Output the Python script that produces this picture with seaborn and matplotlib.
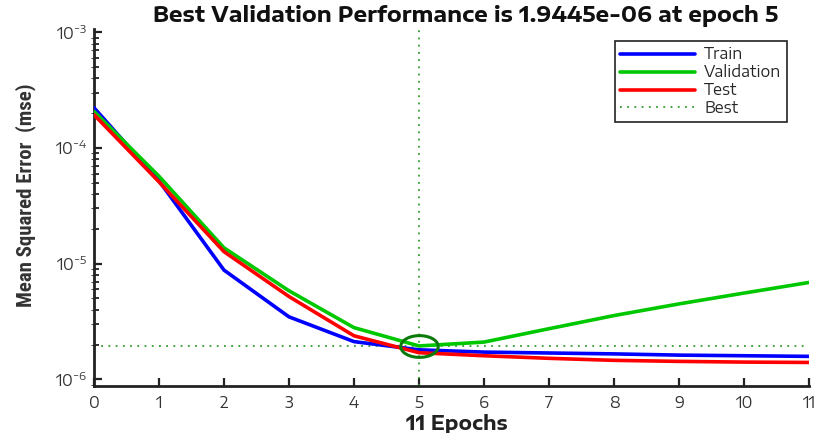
import numpy as np
import pandas as pd
import matplotlib
matplotlib.use('Agg')
import matplotlib.pyplot as plt
from matplotlib.path import Path
from matplotlib.lines import Line2D
import seaborn as sns

# ---- data ----
epochs = list(range(12))
train_mse = [2.23e-4, 5.2e-5, 8.8e-6, 3.47e-6, 2.12e-6, 1.80e-6,
             1.72e-6, 1.69e-6, 1.66e-6, 1.62e-6, 1.60e-6, 1.58e-6]
val_mse = [2.07e-4, 5.7e-5, 1.37e-5, 5.83e-6, 2.80e-6, 1.9445e-6,
           2.10e-6, 2.74e-6, 3.56e-6, 4.49e-6, 5.57e-6, 6.88e-6]
test_mse = [1.94e-4, 5.1e-5, 1.27e-5, 5.2e-6, 2.38e-6, 1.70e-6,
            1.60e-6, 1.52e-6, 1.46e-6, 1.43e-6, 1.41e-6, 1.40e-6]
best_epoch = 5
best_perf = 1.9445e-06
y_decades = [-6, -5, -4, -3]

df = pd.DataFrame({
    "epoch": epochs * 3,
    "mse": train_mse + val_mse + test_mse,
    "set": ["Train"] * 12 + ["Validation"] * 12 + ["Test"] * 12,
})

# the reference is a stretched MATLAB figure -> wide fonts for horizontal text,
# condensed font for the rotated y label
wide = ['Encode Sans Expanded', 'DejaVu Sans']
narrow = ['Roboto Condensed', 'Archivo Narrow', 'DejaVu Sans']

sns.set_style("ticks")
plt.rcParams['font.family'] = wide
plt.rcParams['mathtext.fontset'] = 'custom'
plt.rcParams['mathtext.rm'] = wide[0]
plt.rcParams['mathtext.it'] = wide[0]

colors = {"Train": "#0000ff", "Validation": "#00c800", "Test": "#ff0000"}
best_col = "#2e9e2e"

fig = plt.figure(figsize=(8.2, 4.33), dpi=100)
ax = fig.add_axes([0.1146, 0.1092, 0.872, 0.8231])

ax.axvline(best_epoch, color=best_col, linestyle=(0, (1, 3)), linewidth=1.3, zorder=1)
ax.axhline(best_perf, color=best_col, linestyle=(0, (1, 3)), linewidth=1.3, zorder=1)

sns.lineplot(data=df, x="epoch", y="mse", hue="set", palette=colors,
             hue_order=["Train", "Validation", "Test"], linewidth=2.6,
             legend=False, ax=ax, zorder=3)

# ellipse around the best validation point
t = np.linspace(0, 2 * np.pi, 60)
ell = Path(np.column_stack([np.cos(t), 0.58 * np.sin(t)]))
ax.plot([best_epoch], [best_perf], marker=ell, markersize=27, markerfacecolor='none',
        markeredgecolor="#0a7a0a", markeredgewidth=2.2, linestyle='none', zorder=4)

ax.set_yscale('log')
ax.set_xlim(0, 11)
ax.set_ylim(10 ** -6.055, 10 ** -2.974)
ax.set_xticks(range(12))
ax.set_yticks([10.0 ** d for d in y_decades],
              labels=[r'$10^{%d}$' % d for d in y_decades])

# short inward 2..9 ticks on the log axis
minor_vals = [m * 10.0 ** d for d in y_decades[:-1] for m in range(2, 10)]
ax.hlines(minor_vals, 0, 0.085, colors='#222222', linewidth=1.3, zorder=2.6)

ax.tick_params(axis='both', which='major', direction='in', length=6, width=1.6,
               labelsize=11, colors='#222222', labelcolor='#333333')
ax.tick_params(axis='x', pad=7)
ax.tick_params(axis='y', pad=5)

for s in ['left', 'bottom']:
    ax.spines[s].set_linewidth(2)
    ax.spines[s].set_color('#222222')
ax.spines['top'].set_visible(False)
ax.spines['right'].set_visible(False)

ax.set_xlabel("11 Epochs", fontsize=14, fontweight='bold', color='#222222')
ax.xaxis.set_label_coords(0.508, -0.078)
ax.set_ylabel("Mean Squared Error  (mse)", fontsize=15, fontweight='bold',
              color='#333333', family=narrow)
ax.yaxis.set_label_coords(-0.081, 0.535)
ax.set_title("Best Validation Performance is 1.9445e-06 at epoch 5",
             fontsize=15.5, fontweight='bold', x=0.52, pad=5.5, color='#111111')

handles = [Line2D([], [], color=colors["Train"], linewidth=2.6),
           Line2D([], [], color=colors["Validation"], linewidth=2.6),
           Line2D([], [], color=colors["Test"], linewidth=2.6),
           Line2D([], [], color=best_col, linestyle=(0, (1, 3)), linewidth=1.3)]
leg = ax.legend(handles, ["Train", "Validation", "Test", "Best"],
                loc='upper right', bbox_to_anchor=(0.969, 0.967), fontsize=11,
                frameon=True, fancybox=False, framealpha=1, edgecolor='#222222',
                handlelength=4.9, handletextpad=0.6, labelspacing=0.05,
                borderpad=0.35, borderaxespad=0)
leg.get_frame().set_linewidth(1.2)

fig.savefig("out.png", dpi=100)
